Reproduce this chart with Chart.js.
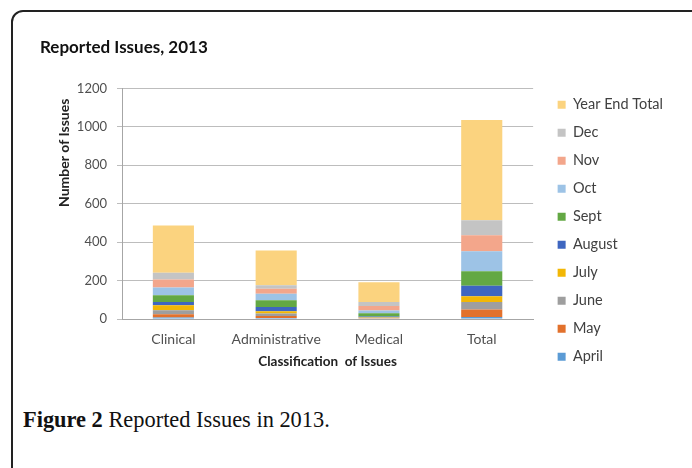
<!DOCTYPE html>
<html>
<head>
<meta charset="utf-8">
<script src="https://cdn.jsdelivr.net/npm/chart.js@4/dist/chart.umd.min.js"></script>
<style>
    body { margin: 0; background: #fff; width: 692px; height: 468px; overflow: hidden; position: relative; }
    .frame { position: absolute; left: 11px; top: 10px; width: 720px; height: 520px; border: 2px solid #222; border-radius: 12px; box-sizing: border-box; }
    .chart-wrap { position: absolute; left: 20px; top: 20px; width: 660px; height: 360px; }
    .caption { position: absolute; left: 23px; top: 407px; font-family: "Liberation Serif", serif; font-size: 22.4px; color: #111; }
</style>
</head>
<body>
<div class="frame"></div>
<div class="chart-wrap"><canvas id="issues-chart"></canvas></div>
<div class="caption"><b>Figure 2</b> Reported Issues in 2013.</div>
<script>
// categories + monthly counts
const categories = ['Clinical', 'Administrative', 'Medical', 'Total'];
const april = [8, 5, 2, 11];
const may = [17, 10, 2, 38];
const june = [21, 13, 3, 40];
const july = [26, 12, 2, 30];
const august = [17, 23, 4, 54];
const sept = [35, 35, 17, 76];
const oct = [40, 34, 14, 104];
const nov = [41, 26, 24, 83];
const dec = [36, 17, 20, 78];
const yearEndTotal = [246, 182, 103, 522];
const yTicks = [0, 200, 400, 600, 800, 1000, 1200];

const seriesNames = ['April', 'May', 'June', 'July', 'August', 'Sept', 'Oct', 'Nov', 'Dec', 'Year End Total'];
const seriesValues = [april, may, june, july, august, sept, oct, nov, dec, yearEndTotal];
const seriesColors = ['#5B9BD5', '#E2712C', '#9E9E9E', '#F2B705', '#3E66C0', '#63A844', '#9DC3E6', '#F3A68B', '#C4C4C4', '#FBD37F'];

const font = 'Lato, "Liberation Sans", sans-serif';

// nudge the legend right so there is a wider gap after the plot
const legendShift = {
    id: 'legendShift',
    afterLayout(chart) {
        if (!chart.legend) return;
        chart.legend.left += 11;
        chart.legend.right += 11;
    }
};

const chart = new Chart(document.getElementById('issues-chart'), {
    type: 'bar',
    data: {
        labels: categories,
        datasets: seriesNames.map((name, i) => ({
            label: name,
            data: seriesValues[i],
            backgroundColor: seriesColors[i],
            borderWidth: 0,
            barPercentage: 0.4,
            categoryPercentage: 1
        }))
    },
    options: {
        responsive: true,
        maintainAspectRatio: false,
        animation: false,
        layout: { padding: { left: 20, right: 18, top: 0, bottom: 0 } },
        plugins: {
            title: {
                display: true,
                text: 'Reported Issues, 2013',
                align: 'start',
                color: '#111',
                font: { family: font, size: 17, weight: 'bold' },
                padding: { top: 17, bottom: 31 }
            },
            legend: {
                position: 'right',
                align: 'start',
                reverse: true,
                // empty title only pushes the items down
                title: { display: true, text: '', font: { size: 10 }, padding: { top: 26, bottom: 26 } },
                labels: {
                    boxWidth: 8,
                    boxHeight: 8,
                    padding: 13.5,
                    color: '#404040',
                    font: { family: font, size: 14.5 }
                }
            },
            tooltip: { enabled: false }
        },
        scales: {
            x: {
                stacked: true,
                grid: { display: false, drawTicks: false },
                border: { color: '#A6A6A6' },
                ticks: { color: '#505050', font: { family: font, size: 14 }, padding: 12 },
                title: { display: true, text: 'Classification  of Issues', color: '#222', font: { family: font, size: 13.5, weight: 'bold' }, padding: { top: 4, bottom: 10 } },
                afterFit: scale => { scale.height = 61; }
            },
            y: {
                stacked: true,
                min: 0,
                max: 1200,
                afterBuildTicks: axis => { axis.ticks = yTicks.map(v => ({ value: v })); },
                grid: { color: '#BDBDBD', tickLength: 5 },
                border: { color: '#A6A6A6' },
                ticks: { color: '#505050', font: { family: font, size: 13 }, padding: 10, callback: v => String(v) },
                title: { display: true, text: 'Number of Issues   ', align: 'end', color: '#222', font: { family: font, size: 14, weight: 'bold' }, padding: { top: 16, bottom: 0 } },
                afterFit: scale => { scale.width = 82; }
            }
        }
    },
    plugins: [legendShift]
});
</script>
</body>
</html>
